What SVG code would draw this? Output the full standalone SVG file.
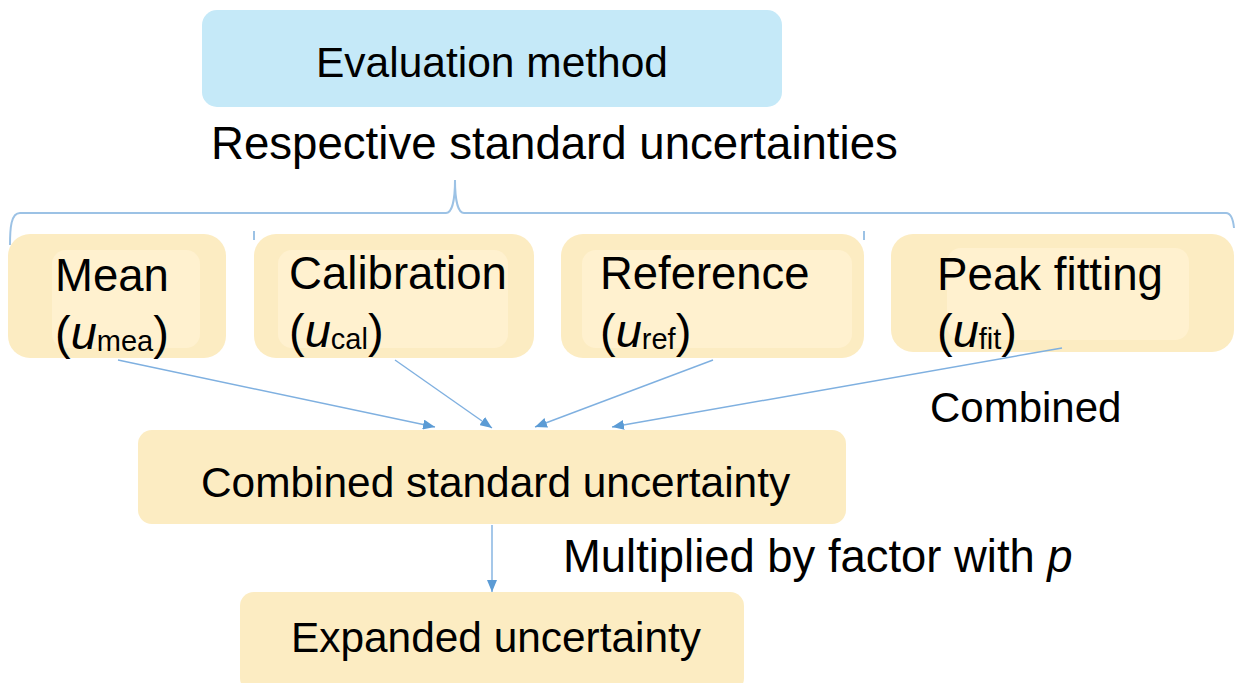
<svg xmlns="http://www.w3.org/2000/svg" width="1236" height="683" viewBox="0 0 1236 683">
  <style>
    .t { font-family: "Liberation Sans", Arial, sans-serif; fill: #000; }
    .outer { fill: #fcecc2; }
    .inner { fill: #fff1cf; }
    .link { stroke: #7fb0e0; stroke-width: 1.4; fill: none; marker-end: url(#ah); }
    .brace { stroke: #9cc2e5; stroke-width: 2; fill: none; }
  </style>
  <defs>
    <marker id="ah" viewBox="0 0 12 10" refX="12" refY="5" markerWidth="12" markerHeight="10" markerUnits="userSpaceOnUse" orient="auto">
      <path d="M0,0 L12,5 L0,10 Z" fill="#5b9bd5"/>
    </marker>
  </defs>
  <rect width="1236" height="683" fill="#fff"/>

  <g id="evaluation-method">
    <rect x="202" y="10" width="580" height="97" rx="15" fill="#c5e9f8"/>
    <text class="t" x="492" y="77" font-size="42.5" text-anchor="middle">Evaluation method</text>
  </g>

  <g id="brace-label">
    <text class="t" x="211" y="159" font-size="45.6">Respective standard uncertainties</text>
    <path class="brace" d="M10,245 C10,228 11,213 20,213 L446,213 C452,213 455,200 455,180 C455,200 458,213 464,213 L1226,213 C1231,213 1233,218 1234,228"/>
    <path class="brace" d="M254,231 L254,240 M864,231 L864,240"/>
  </g>

  <g id="mean">
    <rect class="outer" x="8" y="234" width="218" height="124" rx="22"/>
    <rect class="inner" x="52" y="250" width="148" height="98" rx="14"/>
    <text class="t" x="55" y="291" font-size="45.5">Mean</text>
    <text class="t" x="55" y="349" font-size="47">(<tspan font-style="italic">u</tspan><tspan font-size="29" dy="2">mea</tspan><tspan dy="-2">)</tspan></text>
  </g>

  <g id="calibration">
    <rect class="outer" x="254" y="234" width="280" height="124" rx="22"/>
    <rect class="inner" x="278" y="250" width="230" height="98" rx="14"/>
    <text class="t" x="289" y="289" font-size="45.6">Calibration</text>
    <text class="t" x="289" y="347" font-size="47">(<tspan font-style="italic">u</tspan><tspan font-size="29" dy="2">cal</tspan><tspan dy="-2">)</tspan></text>
  </g>

  <g id="reference">
    <rect class="outer" x="561" y="234" width="303" height="124" rx="22"/>
    <rect class="inner" x="582" y="250" width="270" height="98" rx="14"/>
    <text class="t" x="600" y="289" font-size="45.4">Reference</text>
    <text class="t" x="600" y="347" font-size="47">(<tspan font-style="italic">u</tspan><tspan font-size="29" dy="2">ref</tspan><tspan dy="-2">)</tspan></text>
  </g>

  <g id="peak-fitting">
    <rect class="outer" x="891" y="234" width="343" height="118" rx="22"/>
    <rect class="inner" x="947" y="248" width="242" height="92" rx="14"/>
    <text class="t" x="937" y="290" font-size="45.7">Peak fitting</text>
    <text class="t" x="937" y="347" font-size="47">(<tspan font-style="italic">u</tspan><tspan font-size="29" dy="2">fit</tspan><tspan dy="-2">)</tspan></text>
  </g>

  <g id="combined-label">
    <text class="t" x="930" y="422" font-size="42">Combined</text>
  </g>

  <g id="combined-standard-uncertainty">
    <rect class="outer" x="138" y="430" width="708" height="94" rx="14"/>
    <text class="t" x="201" y="497" font-size="42.4">Combined standard uncertainty</text>
  </g>

  <g id="multiplied-label">
    <text class="t" x="563" y="572" font-size="45.4">Multiplied by factor with <tspan font-style="italic">p</tspan></text>
  </g>

  <g id="expanded-uncertainty">
    <rect class="outer" x="240" y="592" width="504" height="100" rx="14"/>
    <text class="t" x="291" y="652" font-size="42.4">Expanded uncertainty</text>
  </g>

  <g id="connectors">
    <path class="link" d="M118,360 L435,427"/>
    <path class="link" d="M395,360 L492,428"/>
    <path class="link" d="M713,360 L535,427"/>
    <path class="link" d="M1062,348 L612,427"/>
    <path class="link" d="M492,525 L492,592"/>
  </g>
</svg>
